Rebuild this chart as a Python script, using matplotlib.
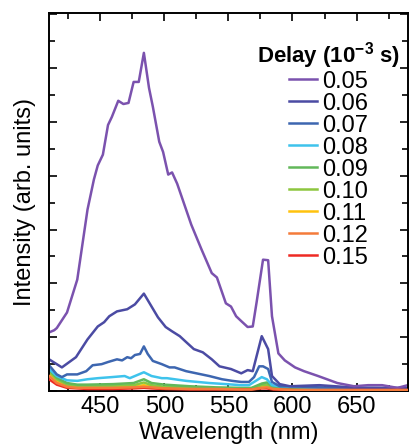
import matplotlib
matplotlib.use("Agg")
import matplotlib.pyplot as plt
from matplotlib.ticker import MultipleLocator

plt.rcParams["font.family"] = ["Liberation Sans", "DejaVu Sans"]
plt.rcParams["mathtext.fontset"] = "custom"
plt.rcParams["mathtext.rm"] = "Liberation Sans"
plt.rcParams["mathtext.bf"] = "Liberation Sans:bold"

# delays (10^-3 s) and colours
delays = ["0.05", "0.06", "0.07", "0.08", "0.09", "0.10", "0.11", "0.12", "0.15"]
colors = ["#7b52ae", "#4b4ba3", "#3d66b0", "#3ec3ec", "#62b85a", "#8dc63f", "#ffc20e", "#f47b3a", "#ee2a24"]

# spectra (wavelength nm, intensity arb.)
wl_005 = [410, 414, 416, 424, 432, 440, 445, 448, 452, 456, 459, 464, 468, 472, 476, 480, 484, 488,
          491, 496, 499, 503, 506, 510, 521, 529, 537, 541, 548, 552, 556, 560, 565, 569, 572, 577,
          581, 584, 589, 594, 602, 609, 620, 635, 648, 659, 670, 682, 690]
i_005 = [1.09, 1.13, 1.17, 1.46, 2.07, 3.37, 3.93, 4.19, 4.39, 4.94, 5.09, 5.39, 5.33, 5.35, 5.74,
         5.74, 6.28, 5.63, 5.28, 4.63, 4.44, 4.02, 4.06, 3.85, 3.09, 2.63, 2.19, 2.11, 1.63, 1.57,
         1.39, 1.30, 1.19, 1.20, 1.65, 2.44, 2.43, 1.39, 0.70, 0.57, 0.44, 0.37, 0.28, 0.15, 0.09,
         0.11, 0.11, 0.06, 0.11]

wl_006 = [410, 420, 431, 440, 448, 453, 457, 463, 471, 477, 484, 490, 495, 501, 506, 512, 517, 523,
          530, 537, 543, 552, 560, 565, 569, 572, 576, 581, 584, 590, 598, 621, 652, 690]
i_006 = [0.59, 0.44, 0.63, 0.96, 1.20, 1.28, 1.39, 1.48, 1.52, 1.61, 1.81, 1.57, 1.37, 1.19, 1.11,
         1.02, 0.91, 0.78, 0.72, 0.59, 0.46, 0.41, 0.33, 0.39, 0.37, 0.65, 1.02, 0.78, 0.28, 0.13,
         0.09, 0.11, 0.06, 0.06]

wl_007 = [410, 416, 420, 424, 432, 439, 444, 451, 456, 463, 467, 471, 474, 477, 481, 484, 487, 491,
          498, 504, 508, 517, 525, 535, 545, 553, 560, 566, 570, 574, 577, 581, 584, 590, 598, 620, 690]
i_007 = [0.48, 0.31, 0.26, 0.31, 0.31, 0.37, 0.48, 0.50, 0.54, 0.59, 0.57, 0.63, 0.61, 0.67, 0.69,
         0.83, 0.69, 0.56, 0.50, 0.44, 0.44, 0.37, 0.33, 0.28, 0.22, 0.19, 0.17, 0.17, 0.26, 0.46,
         0.46, 0.41, 0.17, 0.09, 0.09, 0.07, 0.05]

wl_008 = [410, 416, 424, 432, 440, 448, 459, 469, 473, 477, 484, 490, 498, 502, 508, 517, 535, 548,
          560, 566, 572, 576, 580, 584, 590, 620, 690]
i_008 = [0.41, 0.28, 0.20, 0.19, 0.22, 0.24, 0.26, 0.28, 0.24, 0.28, 0.35, 0.28, 0.24, 0.24, 0.22,
         0.19, 0.15, 0.13, 0.11, 0.11, 0.20, 0.26, 0.22, 0.11, 0.09, 0.06, 0.05]

wl_low = [410, 416, 424, 432, 440, 460, 476, 484, 490, 500, 520, 540, 560, 568, 576, 580, 585, 600, 690]
i_009 = [0.40, 0.25, 0.15, 0.12, 0.12, 0.13, 0.15, 0.22, 0.15, 0.12, 0.09, 0.07, 0.06, 0.06, 0.14,
         0.16, 0.08, 0.04, 0.03]
i_010 = [0.36, 0.22, 0.12, 0.10, 0.09, 0.10, 0.11, 0.16, 0.11, 0.08, 0.07, 0.05, 0.05, 0.05, 0.11,
         0.12, 0.06, 0.03, 0.03]
i_011 = [0.32, 0.18, 0.10, 0.08, 0.07, 0.08, 0.08, 0.11, 0.08, 0.06, 0.05, 0.04, 0.04, 0.04, 0.08,
         0.09, 0.05, 0.03, 0.02]
i_012 = [0.28, 0.15, 0.08, 0.06, 0.06, 0.06, 0.07, 0.08, 0.07, 0.05, 0.04, 0.04, 0.03, 0.03, 0.06,
         0.07, 0.04, 0.02, 0.02]
i_015 = [0.22, 0.12, 0.06, 0.05, 0.04, 0.04, 0.05, 0.06, 0.05, 0.04, 0.03, 0.03, 0.03, 0.03, 0.05,
         0.05, 0.03, 0.02, 0.02]

series = [(wl_005, i_005), (wl_006, i_006), (wl_007, i_007), (wl_008, i_008),
          (wl_low, i_009), (wl_low, i_010), (wl_low, i_011), (wl_low, i_012), (wl_low, i_015)]

fig = plt.figure(figsize=(4.09, 4.48), dpi=100)
ax = fig.add_axes([0.12, 0.127, 0.877, 0.844])

# draw low ones first so the strong curves sit on top
for (x, y), c, d in reversed(list(zip(series, colors, delays))):
    ax.plot(x, y, color=c, lw=1.8, label=d, zorder=3 if d in ("0.15", "0.12") else 2)

ax.set_xlim(410, 690)
ax.set_ylim(0, 7.02)
ax.xaxis.set_major_locator(MultipleLocator(50))
ax.xaxis.set_minor_locator(MultipleLocator(25))
ax.yaxis.set_major_locator(MultipleLocator(1))
ax.yaxis.set_minor_locator(MultipleLocator(0.5))
ax.tick_params(which="both", direction="in", top=True, right=True, labelsize=17, width=1.2)
ax.tick_params(which="major", length=6)
ax.tick_params(which="minor", length=4)
ax.tick_params(axis="y", labelleft=False)
for s in ax.spines.values():
    s.set_linewidth(1.4)

ax.set_xlabel("Wavelength (nm)", fontsize=17, labelpad=3)
ax.set_ylabel("Intensity (arb. units)", fontsize=17, labelpad=6)

handles, labels = ax.get_legend_handles_labels()
leg = ax.legend(handles[::-1], labels[::-1], loc="upper right", bbox_to_anchor=(1.017, 0.967),
                frameon=False, fontsize=17,
                title="Delay (10$^{\\mathbf{-3}}$ s)", title_fontproperties={"size": 16, "weight": "bold"},
                handlelength=1.2, handletextpad=0.2, labelspacing=0.0,
                borderaxespad=0.0, borderpad=0.6)

fig.savefig("out.png", dpi=100)
